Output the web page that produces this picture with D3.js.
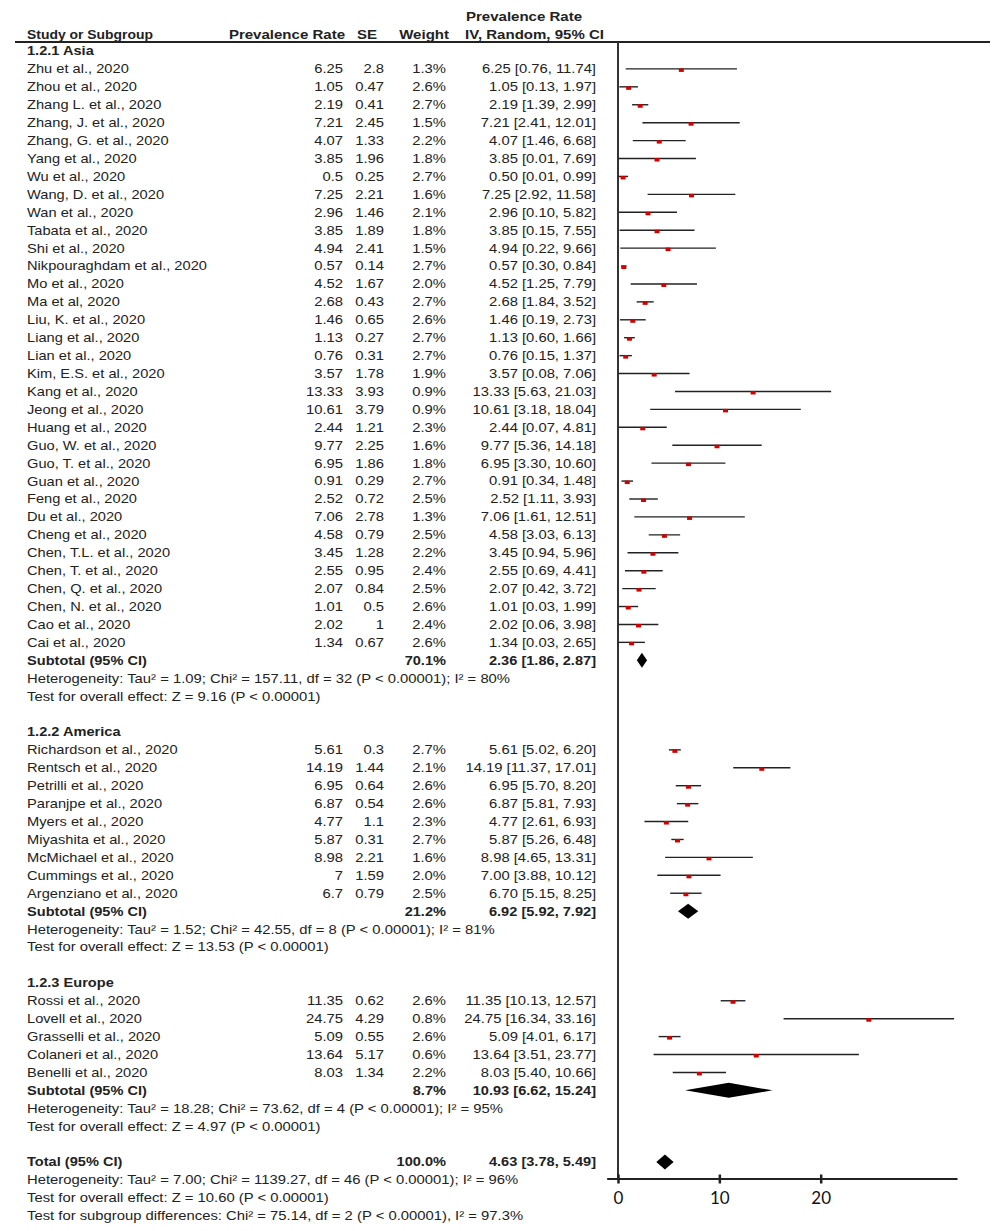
<!DOCTYPE html>
<html>
<head>
<meta charset="utf-8">
<script src="https://cdn.jsdelivr.net/npm/d3@7"></script>
<style>
  body { margin: 0; background: #fff; }
  text { font-family: "Liberation Sans", Arial, sans-serif; font-size: 12.6px; fill: #222; }
  .bold { font-weight: bold; }
  .tick text { font-family: Lato, "Open Sans", sans-serif; font-size: 17px; fill: #111; }
</style>
</head>
<body>
<div id="chart"></div>
<script>
var width = 1000, height = 1231,
    rowH = 17.92, top0 = 51,
    colName = 27, colRate = 343, colSE = 384, colW = 446, colCI = 596;

// Asia
var asiaNames = ["Zhu et al., 2020","Zhou et al., 2020","Zhang L. et al., 2020","Zhang, J. et al., 2020","Zhang, G. et al., 2020","Yang et al., 2020","Wu et al., 2020","Wang, D. et al., 2020","Wan et al., 2020","Tabata et al., 2020","Shi et al., 2020","Nikpouraghdam et al., 2020","Mo et al., 2020","Ma et al, 2020","Liu, K. et al., 2020","Liang et al., 2020","Lian et al., 2020","Kim, E.S. et al., 2020","Kang et al., 2020","Jeong et al., 2020","Huang et al., 2020","Guo, W. et al., 2020","Guo, T. et al., 2020","Guan et al., 2020","Feng et al., 2020","Du et al., 2020","Cheng et al., 2020","Chen, T.L. et al., 2020","Chen, T. et al., 2020","Chen, Q. et al., 2020","Chen, N. et al., 2020","Cao et al., 2020","Cai et al., 2020"];
var asiaRate = [6.25,1.05,2.19,7.21,4.07,3.85,0.5,7.25,2.96,3.85,4.94,0.57,4.52,2.68,1.46,1.13,0.76,3.57,13.33,10.61,2.44,9.77,6.95,0.91,2.52,7.06,4.58,3.45,2.55,2.07,1.01,2.02,1.34];
var asiaSE = [2.8,0.47,0.41,2.45,1.33,1.96,0.25,2.21,1.46,1.89,2.41,0.14,1.67,0.43,0.65,0.27,0.31,1.78,3.93,3.79,1.21,2.25,1.86,0.29,0.72,2.78,0.79,1.28,0.95,0.84,0.5,1,0.67];
var asiaWeight = [1.3,2.6,2.7,1.5,2.2,1.8,2.7,1.6,2.1,1.8,1.5,2.7,2.0,2.7,2.6,2.7,2.7,1.9,0.9,0.9,2.3,1.6,1.8,2.7,2.5,1.3,2.5,2.2,2.4,2.5,2.6,2.4,2.6];
var asiaLo = [0.76,0.13,1.39,2.41,1.46,0.01,0.01,2.92,0.10,0.15,0.22,0.30,1.25,1.84,0.19,0.60,0.15,0.08,5.63,3.18,0.07,5.36,3.30,0.34,1.11,1.61,3.03,0.94,0.69,0.42,0.03,0.06,0.03];
var asiaHi = [11.74,1.97,2.99,12.01,6.68,7.69,0.99,11.58,5.82,7.55,9.66,0.84,7.79,3.52,2.73,1.66,1.37,7.06,21.03,18.04,4.81,14.18,10.60,1.48,3.93,12.51,6.13,5.96,4.41,3.72,1.99,3.98,2.65];

// America
var amerNames = ["Richardson et al., 2020","Rentsch et al., 2020","Petrilli et al., 2020","Paranjpe et al., 2020","Myers et al., 2020","Miyashita et al., 2020","McMichael et al., 2020","Cummings et al., 2020","Argenziano et al., 2020"];
var amerRate = [5.61,14.19,6.95,6.87,4.77,5.87,8.98,7,6.7];
var amerSE = [0.3,1.44,0.64,0.54,1.1,0.31,2.21,1.59,0.79];
var amerWeight = [2.7,2.1,2.6,2.6,2.3,2.7,1.6,2.0,2.5];
var amerLo = [5.02,11.37,5.70,5.81,2.61,5.26,4.65,3.88,5.15];
var amerHi = [6.20,17.01,8.20,7.93,6.93,6.48,13.31,10.12,8.25];

// Europe
var euroNames = ["Rossi et al., 2020","Lovell et al., 2020","Grasselli et al., 2020","Colaneri et al., 2020","Benelli et al., 2020"];
var euroRate = [11.35,24.75,5.09,13.64,8.03];
var euroSE = [0.62,4.29,0.55,5.17,1.34];
var euroWeight = [2.6,0.8,2.6,0.6,2.2];
var euroLo = [10.13,16.34,4.01,3.51,5.40];
var euroHi = [12.57,33.16,6.17,23.77,10.66];

// pooled: subtotals and total
var pooledLabels = ["Subtotal (95% CI)","Subtotal (95% CI)","Subtotal (95% CI)","Total (95% CI)"];
var pooledWeight = [70.1,21.2,8.7,100.0];
var pooledEst = [2.36,6.92,10.93,4.63];
var pooledLo = [1.86,5.92,6.62,3.78];
var pooledHi = [2.87,7.92,15.24,5.49];

var groupTitles = ["1.2.1 Asia","1.2.2 America","1.2.3 Europe"];
var hetTexts = [
  "Heterogeneity: Tau\u00b2 = 1.09; Chi\u00b2 = 157.11, df = 32 (P < 0.00001); I\u00b2 = 80%",
  "Heterogeneity: Tau\u00b2 = 1.52; Chi\u00b2 = 42.55, df = 8 (P < 0.00001); I\u00b2 = 81%",
  "Heterogeneity: Tau\u00b2 = 18.28; Chi\u00b2 = 73.62, df = 4 (P < 0.00001); I\u00b2 = 95%",
  "Heterogeneity: Tau\u00b2 = 7.00; Chi\u00b2 = 1139.27, df = 46 (P < 0.00001); I\u00b2 = 96%"];
var effectTexts = [
  "Test for overall effect: Z = 9.16 (P < 0.00001)",
  "Test for overall effect: Z = 13.53 (P < 0.00001)",
  "Test for overall effect: Z = 4.97 (P < 0.00001)",
  "Test for overall effect: Z = 10.60 (P < 0.00001)"];
var subgroupText = "Test for subgroup differences: Chi\u00b2 = 75.14, df = 2 (P < 0.00001), I\u00b2 = 97.3%";
var xTicks = [0, 10, 20];

var groups = [
  { names: asiaNames, rate: asiaRate, se: asiaSE, w: asiaWeight, lo: asiaLo, hi: asiaHi },
  { names: amerNames, rate: amerRate, se: amerSE, w: amerWeight, lo: amerLo, hi: amerHi },
  { names: euroNames, rate: euroRate, se: euroSE, w: euroWeight, lo: euroLo, hi: euroHi }
];

// build row list
var rows = [], r = 0;
groups.forEach(function(g, gi) {
  rows.push({ type: "title", row: r++, text: groupTitles[gi] });
  g.names.forEach(function(n, i) {
    rows.push({ type: "study", row: r++, name: n, rate: g.rate[i], se: g.se[i], w: g.w[i], lo: g.lo[i], hi: g.hi[i] });
  });
  rows.push({ type: "pooled", row: r++, name: pooledLabels[gi], w: pooledWeight[gi], est: pooledEst[gi], lo: pooledLo[gi], hi: pooledHi[gi] });
  rows.push({ type: "note", row: r++, text: hetTexts[gi] });
  rows.push({ type: "note", row: r++, text: effectTexts[gi] });
  r++;
});
rows.push({ type: "pooled", row: r++, name: pooledLabels[3], w: pooledWeight[3], est: pooledEst[3], lo: pooledLo[3], hi: pooledHi[3] });
rows.push({ type: "note", row: r++, text: hetTexts[3] });
rows.push({ type: "note", row: r++, text: effectTexts[3] });
rows.push({ type: "note", row: r++, text: subgroupText });

var y = function(row) { return top0 + row * rowH; };
var x = d3.scaleLinear().domain([0, 33.5]).range([618, 957.5]);
var axisY = 1179;

var svg = d3.select("#chart").append("svg")
    .attr("width", width)
    .attr("height", height);

// the original picture is squeezed vertically, so its text is wider than it is tall:
// measure a known string and stretch the text sideways to the width it has there
function widthOf(str, cls) {
  var t = svg.append("text").attr("class", cls).text(str);
  var w = t.node().getComputedTextLength();
  t.remove();
  return w;
}
function stretch(sel, k) {
  sel.each(function() {
    var t = d3.select(this), x0 = +t.attr("x") || 0, y0 = +t.attr("y") || 0;
    t.attr("x", 0).attr("y", 0)
     .attr("transform", "translate(" + x0 + "," + y0 + ") scale(" + k + ",1)");
  });
}
var kName = 180 / widthOf("Nikpouraghdam et al., 2020", ""),
    kNum = 107 / widthOf("0.57 [0.30, 0.84]", ""),
    kNote = 496 / widthOf(subgroupText, ""),
    kBold = 120 / widthOf("Subtotal (95% CI)", "bold"),
    kHead = 139 / widthOf("IV, Random, 95% CI", "bold"),
    kStudy = 126 / widthOf("Study or Subgroup", "bold");

// header
var hd = svg.append("g");
stretch(hd.append("text").attr("class", "bold").attr("x", colName).attr("y", 39).text("Study or Subgroup"), kStudy);
stretch(hd.append("text").attr("class", "bold").attr("x", 345).attr("y", 39).style("text-anchor", "end").text("Prevalence Rate"), kHead);
stretch(hd.append("text").attr("class", "bold").attr("x", 377).attr("y", 39).style("text-anchor", "end").text("SE"), kHead);
stretch(hd.append("text").attr("class", "bold").attr("x", 449).attr("y", 39).style("text-anchor", "end").text("Weight"), kHead);
stretch(hd.append("text").attr("class", "bold").attr("x", 524).attr("y", 21).style("text-anchor", "middle").text("Prevalence Rate"), kHead);
stretch(hd.append("text").attr("class", "bold").attr("x", 604).attr("y", 39).style("text-anchor", "end").text("IV, Random, 95% CI"), kHead);

svg.append("line").attr("x1", 15).attr("x2", 990).attr("y1", 42).attr("y2", 42)
    .attr("stroke", "#222").attr("stroke-width", 2);
svg.append("line").attr("x1", x(0)).attr("x2", x(0)).attr("y1", 42).attr("y2", axisY)
    .attr("stroke", "#333").attr("stroke-width", 2);

var fmt = d3.format(".2f");

var g = svg.selectAll(".row").data(rows).enter().append("g")
    .attr("class", "row")
    .attr("transform", function(d) { return "translate(0," + y(d.row) + ")"; });

stretch(g.filter(function(d) { return d.type === "title"; }).append("text")
    .attr("class", "bold").attr("x", colName).attr("dy", "0.35em").text(function(d) { return d.text; }), kBold);
stretch(g.filter(function(d) { return d.type === "note"; }).append("text")
    .attr("x", colName).attr("dy", "0.35em").text(function(d) { return d.text; }), kNote);

var st = g.filter(function(d) { return d.type === "study"; });
stretch(st.append("text").attr("x", colName).attr("dy", "0.35em").text(function(d) { return d.name; }), kName);
stretch(st.append("text").attr("x", colRate).attr("dy", "0.35em").style("text-anchor", "end").text(function(d) { return String(d.rate); }), kNum);
stretch(st.append("text").attr("x", colSE).attr("dy", "0.35em").style("text-anchor", "end").text(function(d) { return String(d.se); }), kNum);
stretch(st.append("text").attr("x", colW).attr("dy", "0.35em").style("text-anchor", "end").text(function(d) { return d.w.toFixed(1) + "%"; }), kNum);
stretch(st.append("text").attr("x", colCI).attr("dy", "0.35em").style("text-anchor", "end")
    .text(function(d) { return fmt(d.rate) + " [" + fmt(d.lo) + ", " + fmt(d.hi) + "]"; }), kNum);
st.append("line")
    .attr("x1", function(d) { return x(d.lo); })
    .attr("x2", function(d) { return x(d.hi); })
    .attr("stroke", "#222").attr("stroke-width", 1.4);
st.append("rect")
    .attr("x", function(d) { return x(d.rate) - 2.5; })
    .attr("y", -0.5).attr("width", 5).attr("height", 3.5)
    .attr("fill", "#d40000");

var pl = g.filter(function(d) { return d.type === "pooled"; });
stretch(pl.append("text").attr("class", "bold").attr("x", colName).attr("dy", "0.35em").text(function(d) { return d.name; }), kBold);
stretch(pl.append("text").attr("class", "bold").attr("x", colW).attr("dy", "0.35em").style("text-anchor", "end").text(function(d) { return d.w.toFixed(1) + "%"; }), kBold);
stretch(pl.append("text").attr("class", "bold").attr("x", colCI).attr("dy", "0.35em").style("text-anchor", "end")
    .text(function(d) { return fmt(d.est) + " [" + fmt(d.lo) + ", " + fmt(d.hi) + "]"; }), kBold);
pl.append("path")
    .attr("d", function(d) {
      var h = 7.5;
      return "M" + x(d.lo) + ",0L" + x(d.est) + "," + (-h) + "L" + x(d.hi) + ",0L" + x(d.est) + "," + h + "Z";
    })
    .attr("fill", "#000");

// axis
var axis = svg.append("g").attr("transform", "translate(0," + axisY + ")")
    .call(d3.axisBottom(x).tickValues(xTicks).tickFormat(d3.format("d")).tickSize(0).tickPadding(13));
axis.select(".domain").remove();
axis.append("line").attr("x1", x(-1.07)).attr("x2", x(33.5)).attr("stroke", "#222").attr("stroke-width", 2);
axis.selectAll(".tick").append("line").attr("y1", -4.5).attr("y2", 4.5).attr("stroke", "#222").attr("stroke-width", 2.5);
</script>
</body>
</html>
